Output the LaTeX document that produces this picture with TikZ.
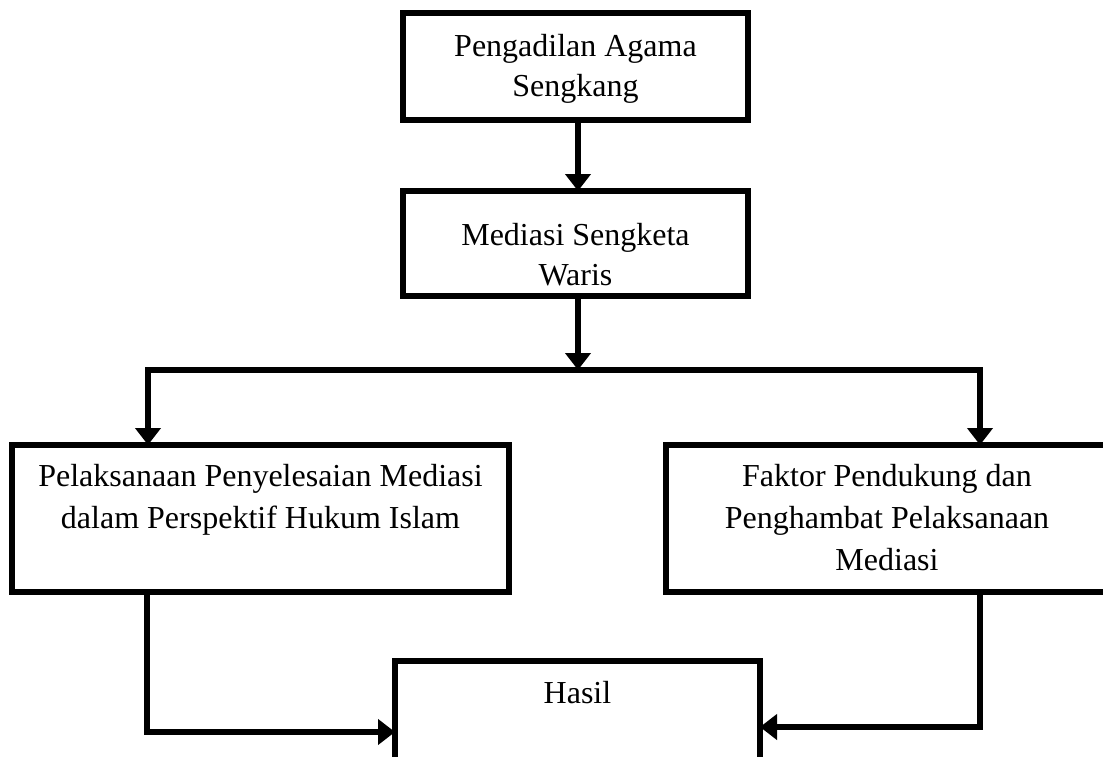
\documentclass[tikz,border=0pt]{standalone}
\usepackage{fontspec}
\setmainfont{Liberation Serif}
\usetikzlibrary{arrows.meta}
\begin{document}
\begin{tikzpicture}[x=1pt,y=-1pt,
  box/.style={draw, line width=6.5pt, inner sep=0pt, outer sep=0pt,
    font=\fontsize{32}{40}\selectfont},
  conn/.style={line width=6.5pt, line join=miter},
  arr/.style={conn, -{Triangle[length=17pt,width=25pt]}}]
\fill[white] (0,0) rectangle (1103,757);
\useasboundingbox (0,0) rectangle (1103,757);

\node[box] (b1) at (575.5,66.5)
  {\parbox[c][107pt][t]{345pt}{\centering\rule{0pt}{44pt}Pengadilan Agama\\Sengkang}};
\node[box] (b2) at (575.5,243.5)
  {\parbox[c][105pt][t]{345pt}{\centering\rule{0pt}{54pt}Mediasi Sengketa\\Waris}};
\node[box] (b3) at (260.5,518.5)
  {\parbox[c][147pt][t]{497pt}{\centering\fontsize{32}{42}\selectfont\rule{0pt}{41pt}Pelaksanaan Penyelesaian Mediasi\\dalam Perspektif Hukum Islam}};
\node[box] (b4) at (887,518.5)
  {\parbox[c][147pt][t]{442pt}{\centering\fontsize{32}{42}\selectfont\rule{0pt}{41pt}Faktor Pendukung dan\\Penghambat Pelaksanaan\\Mediasi}};
\node[box] (b5) at (577.5,735.5)
  {\parbox[c][149pt][t]{365pt}{\centering\rule{0pt}{42pt}Hasil}};

\coordinate (j) at (578,370);
\coordinate (jl) at (148,370);
\coordinate (jr) at (980,370);
\coordinate (hl) at (147,732);
\coordinate (hr) at (980,727);

\draw[arr] ([xshift=2.5pt]b1.south) -- ([xshift=2.5pt]b2.north);
\draw[arr] ([xshift=2.5pt]b2.south) -- (j);
\draw[arr] (j) -| (jl |- b3.north);
\draw[arr] (j) -| (jr |- b4.north);
\draw[arr] (b3.south -| hl) |- (hl -| b5.west);
\draw[arr] (b4.south -| hr) |- (hr -| b5.east);
\end{tikzpicture}
\end{document}
